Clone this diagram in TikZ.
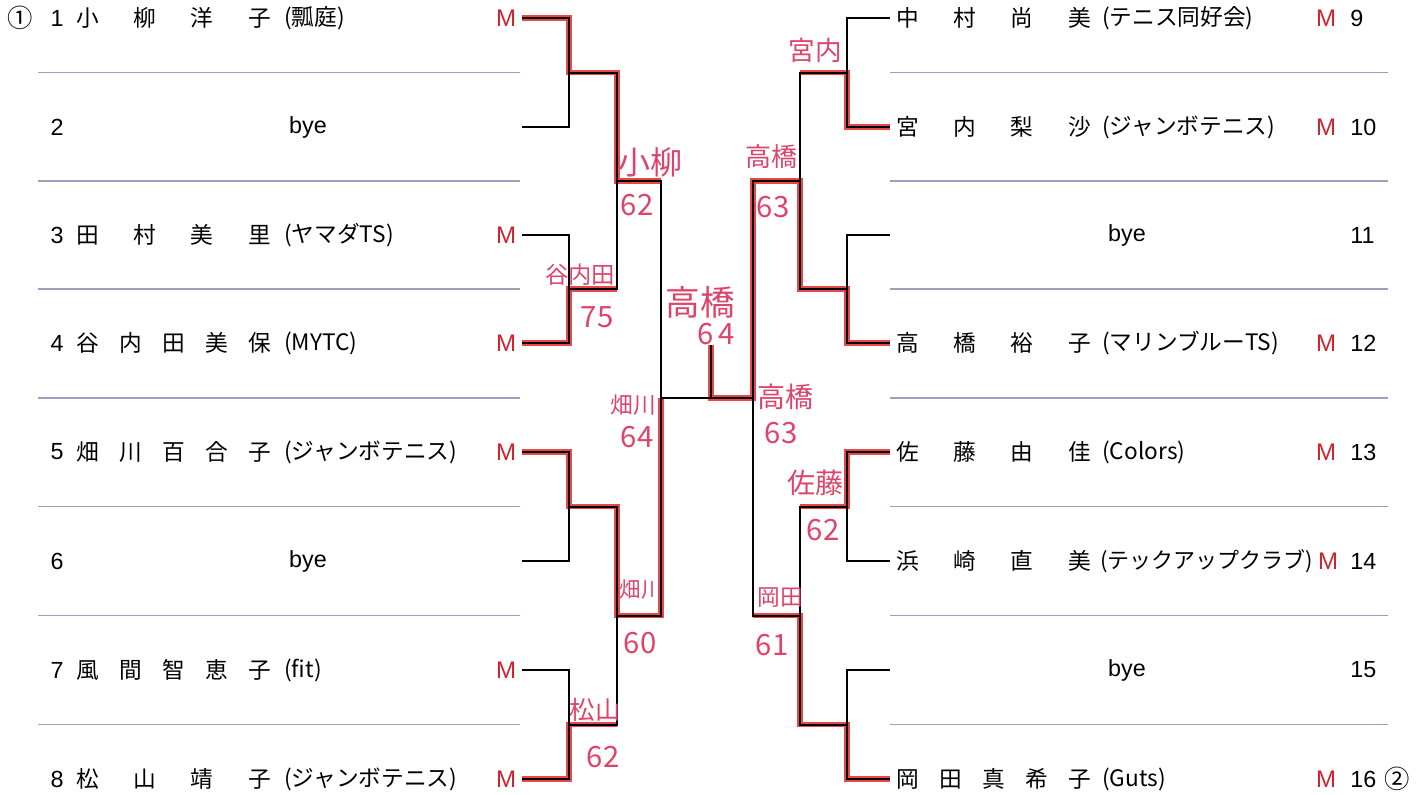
\documentclass[tikz,border=0pt]{standalone}
\usepackage{fontspec}
\setmainfont{Noto Sans CJK JP}
\newfontfamily\latf{Liberation Sans}
\usetikzlibrary{calc,positioning}

\definecolor{sepline}{RGB}{165,155,190}
\definecolor{winred}{RGB}{234,72,72}
\definecolor{handred}{RGB}{222,68,105}
\definecolor{mred}{RGB}{205,35,45}

\newcommand{\spreadname}[1]{\makebox[146pt][s]{#1}}

\tikzset{
  entry/.style={inner sep=0pt, anchor=west, font=\fontsize{17}{18}\selectfont},
  idnum/.style={inner sep=0pt, font=\latf\fontsize{17.5}{18}\selectfont},
  mflag/.style={inner sep=0pt, text=mred, font=\latf\fontsize{18}{18}\selectfont},
  ringnum/.style={inner sep=0pt, font=\fontsize{19}{20}\selectfont},
  bline/.style={line width=1.5pt, black},
  winpath/.style={line width=4.4pt, winred, shift={(2,2)}},
  rowsep/.style={sepline, line width=0.8pt},
  scrawl/.style={inner sep=0pt, text=handred, font=\fontsize{20}{22}\selectfont}
}

\begin{document}
\begin{tikzpicture}[x=0.75pt,y=-0.75pt]
\useasboundingbox (0,0) rectangle (1428,794);

% separators
\foreach \y in {72.5,181,289,398,506.5,615.5,724.5} {
  \draw[rowsep] (38,\y) -- (520,\y);
  \draw[rowsep] (890,\y) -- (1388,\y);
}

% left half entries
\node[ringnum] (c1) at (20,18) {①};
\node[idnum] (id1) at (57,18) {1};
\node[entry] (n1) at (76,18) {\spreadname{小\hfill 柳\hfill 洋\hfill 子}};
\node[entry] (k1) at (284,18) {(瓢庭)};
\node[mflag] (mk1) at (506,18) {M};
\node[idnum] (id2) at (57,127) {2};
\node[idnum] (n2) at (308,127) {bye};
\node[idnum] (id3) at (57,235) {3};
\node[entry] (n3) at (76,235) {\spreadname{田\hfill 村\hfill 美\hfill 里}};
\node[entry] (k3) at (284,235) {(ヤマダTS)};
\node[mflag] (mk3) at (506,235) {M};
\node[idnum] (id4) at (57,343) {4};
\node[entry] (n4) at (76,343) {\spreadname{谷\hfill 内\hfill 田\hfill 美\hfill 保}};
\node[entry] (k4) at (284,343) {(MYTC)};
\node[mflag] (mk4) at (506,343) {M};
\node[idnum] (id5) at (57,452) {5};
\node[entry] (n5) at (76,452) {\spreadname{畑\hfill 川\hfill 百\hfill 合\hfill 子}};
\node[entry] (k5) at (284,452) {(ジャンボテニス)};
\node[mflag] (mk5) at (506,452) {M};
\node[idnum] (id6) at (57,561) {6};
\node[idnum] (n6) at (308,561) {bye};
\node[idnum] (id7) at (57,670) {7};
\node[entry] (n7) at (76,670) {\spreadname{風\hfill 間\hfill 智\hfill 恵\hfill 子}};
\node[entry] (k7) at (284,670) {(fit)};
\node[mflag] (mk7) at (506,670) {M};
\node[idnum] (id8) at (57,779) {8};
\node[entry] (n8) at (76,779) {\spreadname{松\hfill 山\hfill 靖\hfill 子}};
\node[entry] (k8) at (284,779) {(ジャンボテニス)};
\node[mflag] (mk8) at (506,779) {M};

% right half entries
\node[entry] (n9) at (896,18) {\spreadname{中\hfill 村\hfill 尚\hfill 美}};
\node[entry] (k9) at (1102,18) {(テニス同好会)};
\node[mflag] (mk9) at (1326,18) {M};
\node[idnum, anchor=west] (id9) at (1350,18) {9};
\node[entry] (n10) at (896,127) {\spreadname{宮\hfill 内\hfill 梨\hfill 沙}};
\node[entry] (k10) at (1102,127) {(ジャンボテニス)};
\node[mflag] (mk10) at (1326,127) {M};
\node[idnum, anchor=west] (id10) at (1350,127) {10};
\node[idnum] (n11) at (1127,235) {bye};
\node[idnum, anchor=west] (id11) at (1350,235) {11};
\node[entry] (n12) at (896,343) {\spreadname{高\hfill 橋\hfill 裕\hfill 子}};
\node[entry] (k12) at (1102,343) {(マリンブルーTS)};
\node[mflag] (mk12) at (1326,343) {M};
\node[idnum, anchor=west] (id12) at (1350,343) {12};
\node[entry] (n13) at (896,452) {\spreadname{佐\hfill 藤\hfill 由\hfill 佳}};
\node[entry] (k13) at (1102,452) {(Colors)};
\node[mflag] (mk13) at (1326,452) {M};
\node[idnum, anchor=west] (id13) at (1350,452) {13};
\node[entry] (n14) at (896,561) {\spreadname{浜\hfill 崎\hfill 直\hfill 美}};
\node[entry, font=\fontsize{16.5}{18}\selectfont] (k14) at (1100,561) {(テックアップクラブ)};
\node[mflag] (mk14) at (1328,561) {M};
\node[idnum, anchor=west] (id14) at (1350,561) {14};
\node[idnum] (n15) at (1127,670) {bye};
\node[idnum, anchor=west] (id15) at (1350,670) {15};
\node[entry] (n16) at (896,779) {\spreadname{岡\hfill 田\hfill 真\hfill 希\hfill 子}};
\node[entry] (k16) at (1102,779) {(Guts)};
\node[mflag] (mk16) at (1326,779) {M};
\node[idnum, anchor=west] (id16) at (1350,779) {16};
\node[ringnum] (c2) at (1397,779) {②};

% bracket points
\coordinate (p1) at (522,18);   \coordinate (p2) at (522,127);
\coordinate (p3) at (522,235);  \coordinate (p4) at (522,343);
\coordinate (p5) at (522,452);  \coordinate (p6) at (522,561);
\coordinate (p7) at (522,670);  \coordinate (p8) at (522,779);
\coordinate (p9) at (890,18);   \coordinate (p10) at (890,127);
\coordinate (p11) at (890,235); \coordinate (p12) at (890,343);
\coordinate (p13) at (890,452); \coordinate (p14) at (890,561);
\coordinate (p15) at (890,670); \coordinate (p16) at (890,779);
\coordinate (m12) at (569,72.5);   \coordinate (m34) at (569,289);
\coordinate (m56) at (569,506.5);  \coordinate (m78) at (569,724.5);
\coordinate (m910) at (847,72.5);  \coordinate (m1112) at (847,289);
\coordinate (m1314) at (847,506.5);\coordinate (m1516) at (847,724.5);
\coordinate (r1) at (617,181);   \coordinate (r2) at (617,615.5);
\coordinate (r3) at (800,181);   \coordinate (r4) at (800,615.5);
\coordinate (s1) at (661,398);   \coordinate (s2) at (753,398);
\coordinate (f) at (711,398);    \coordinate (top) at (711,345);

% winners in red
\draw[winpath] (p1) -| (m12) -| (r1) -- (r1 -| s1);
\draw[winpath] (p4) -| (m34) -- (m34 -| r1);
\draw[winpath] (p5) -| (m56) -| (r2) -| (s1);
\draw[winpath] (p8) -| (m78) -- (m78 -| r2);
\draw[winpath] (p10) -| (m910) -- (m910 -| r3);
\draw[winpath] (p12) -| (m1112) -| (r3) -| (s2) -- (f) -- (top);
\draw[winpath] (p13) -| (m1314) -- (m1314 -| r4);
\draw[winpath] (p16) -| (m1516) -| (r4) -- (r4 -| s2);

% draw lines
\draw[bline] (p1) -| (m12) |- (p2);
\draw[bline] (p3) -| (m34) |- (p4);
\draw[bline] (p5) -| (m56) |- (p6);
\draw[bline] (p7) -| (m78) |- (p8);
\draw[bline] (m12) -| (r1) |- (m34);
\draw[bline] (m56) -| (r2) |- (m78);
\draw[bline] (r1) -| (s1) |- (r2);
\draw[bline] (p9) -| (m910) |- (p10);
\draw[bline] (p11) -| (m1112) |- (p12);
\draw[bline] (p13) -| (m1314) |- (p14);
\draw[bline] (p15) -| (m1516) |- (p16);
\draw[bline] (m910) -| (r3) |- (m1112);
\draw[bline] (m1314) -| (r4) |- (m1516);
\draw[bline] (r3) -| (s2) |- (r4);
\draw[bline] (s1) -- (s2);
\draw[bline] (f) -- (top);

% handwritten results
\node[scrawl, font=\fontsize{24}{26}\selectfont] (w1) at (650,162) {小柳};
\node[scrawl, font=\fontsize{22}{24}\selectfont] (sc1) at (637,205) {62};
\node[scrawl, font=\fontsize{17.5}{19}\selectfont] (w2) at (580,275) {谷内田};
\node[scrawl, font=\fontsize{22}{24}\selectfont] (sc2) at (597,317) {75};
\node[scrawl, font=\fontsize{17}{19}\selectfont] (w3) at (633,405) {畑川};
\node[scrawl, font=\fontsize{22}{24}\selectfont] (sc3) at (637,437) {64};
\node[scrawl, font=\fontsize{16}{18}\selectfont] (w4) at (641,590) {畑川};
\node[scrawl, font=\fontsize{22}{24}\selectfont] (sc4) at (640,643) {60};
\node[scrawl, font=\fontsize{19}{21}\selectfont] (w5) at (595,710) {松山};
\node[scrawl, font=\fontsize{22}{24}\selectfont] (sc5) at (603,757) {62};
\node[scrawl, font=\fontsize{26}{28}\selectfont] (w6) at (700,302) {高橋};
\node[scrawl, font=\fontsize{22}{24}\selectfont] (sc6) at (716,334) {6\,4};
\node[scrawl, font=\fontsize{20}{22}\selectfont] (w7) at (815,50) {宮内};
\node[scrawl, font=\fontsize{19.5}{21}\selectfont] (w8) at (771,157) {高橋};
\node[scrawl, font=\fontsize{22}{24}\selectfont] (sc8) at (773,207) {63};
\node[scrawl, font=\fontsize{21}{23}\selectfont] (w9) at (785,397) {高橋};
\node[scrawl, font=\fontsize{22}{24}\selectfont] (sc9) at (781,433) {63};
\node[scrawl, font=\fontsize{21}{23}\selectfont] (w10) at (815,483) {佐藤};
\node[scrawl, font=\fontsize{22}{24}\selectfont] (sc10) at (823,530) {62};
\node[scrawl, font=\fontsize{17}{19}\selectfont] (w11) at (780,597) {岡田};
\node[scrawl, font=\fontsize{22}{24}\selectfont] (sc11) at (772,645) {61};
\end{tikzpicture}
\end{document}
